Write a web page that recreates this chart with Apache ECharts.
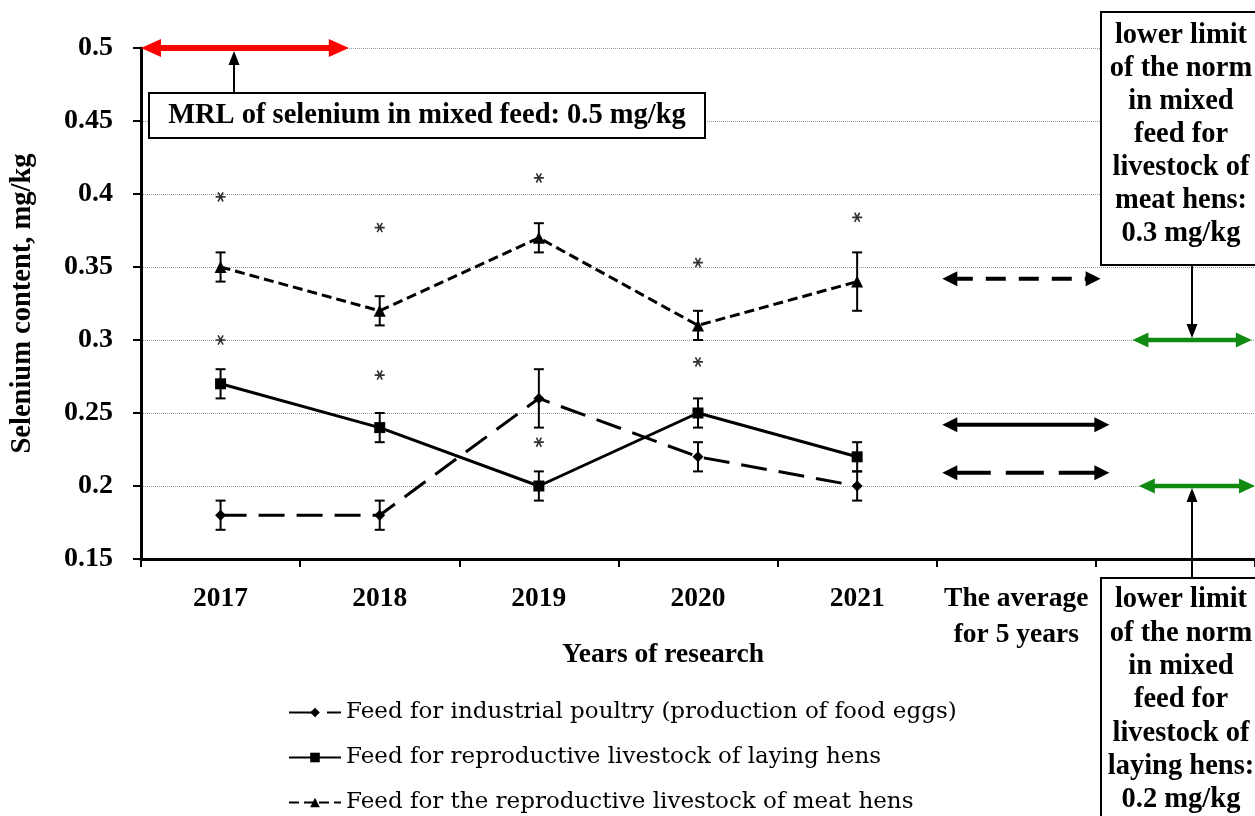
<!DOCTYPE html>
<html>
<head>
<meta charset="utf-8">
<script src="https://cdn.jsdelivr.net/npm/echarts@6/dist/echarts.min.js"></script>
<style>
  html, body { margin: 0; padding: 0; background: #fff; }
  #chart { width: 1255px; height: 816px; }
</style>
</head>
<body>
<div id="chart"></div>
<script>
// Categories on the x axis (last slot holds the norm annotations)
const categories = ['2017', '2018', '2019', '2020', '2021', 'The average\nfor 5 years', ''];

// Selenium content, mg/kg (mean and error)
const industrialFeed = [0.18, 0.18, 0.26, 0.22, 0.20];
const industrialErr  = [0.01, 0.01, 0.02, 0.01, 0.01];
const layingFeed     = [0.27, 0.24, 0.20, 0.25, 0.22];
const layingErr      = [0.01, 0.01, 0.01, 0.01, 0.01];
const meatFeed       = [0.35, 0.32, 0.37, 0.31, 0.34];
const meatErr        = [0.01, 0.01, 0.01, 0.01, 0.02];

// Values marked with an asterisk
const starsUpper = [0.398, 0.377, 0.411, 0.353, 0.384];
const starsLower = [0.300, 0.276, 0.230, 0.285, null];

// Five-year averages: industrial, laying hens, meat hens
const averages = [0.209, 0.242, 0.342];

// Regulatory levels
const mrlSelenium = 0.5;
const meatHensNorm = 0.3;
const layingHensNorm = 0.2;

const seriesNames = [
  'Feed for industrial poultry (production of food eggs)',
  'Feed for reproductive livestock of laying hens',
  'Feed for the reproductive livestock of meat hens'
];

const SERIF = '"Liberation Serif", "Times New Roman", serif';
const BOX_FONT = 'bold 28.5px ' + SERIF;

const chart = echarts.init(document.getElementById('chart'), null, { renderer: 'canvas' });

function errorBarSeries(values, errs) {
  return {
    type: 'custom',
    silent: true,
    z: 4,
    data: values.map((v, i) => [i, +(v - errs[i]).toFixed(3), +(v + errs[i]).toFixed(3)]),
    encode: { x: 0, y: [1, 2] },
    renderItem(params, api) {
      const x = api.value(0);
      const lo = api.coord([x, api.value(1)]);
      const hi = api.coord([x, api.value(2)]);
      const h = 5;
      const st = { stroke: '#000', lineWidth: 2 };
      return {
        type: 'group',
        children: [
          { type: 'line', shape: { x1: lo[0], y1: lo[1], x2: hi[0], y2: hi[1] }, style: st },
          { type: 'line', shape: { x1: lo[0] - h, y1: lo[1], x2: lo[0] + h, y2: lo[1] }, style: st },
          { type: 'line', shape: { x1: hi[0] - h, y1: hi[1], x2: hi[0] + h, y2: hi[1] }, style: st }
        ]
      };
    }
  };
}

function arrowGroup(x1, x2, y, o) {
  const L = o.head, H = o.half;
  return {
    type: 'group',
    children: [
      { type: 'line', shape: { x1: x1 + L * 0.7, y1: y, x2: x2 - L * 0.7, y2: y },
        style: { stroke: o.color, lineWidth: o.width, lineDash: o.dash || null } },
      { type: 'polygon', shape: { points: [[x1, y], [x1 + L, y - H], [x1 + L, y + H]] }, style: { fill: o.color } },
      { type: 'polygon', shape: { points: [[x2, y], [x2 - L, y - H], [x2 - L, y + H]] }, style: { fill: o.color } }
    ]
  };
}

// Double-headed horizontal arrow at a value, spanning part of a category band
function levelArrowSeries(cat, value, fromBand, toBand, opts) {
  return {
    type: 'custom',
    silent: true,
    z: 5,
    data: [[cat, value]],
    encode: { x: 0, y: 1 },
    renderItem(params, api) {
      const c = api.coord([api.value(0), api.value(1)]);
      const bw = api.size([1, 0])[0];
      return arrowGroup(c[0] + fromBand * bw, c[0] + toBand * bw, c[1], opts);
    }
  };
}

const starPath = 'path://M0 8.4 L20 8.4 L20 11.6 L0 11.6 Z M3.6 2.2 L6.4 0.6 L16.4 17.8 L13.6 19.4 Z M13.6 0.6 L16.4 2.2 L6.4 19.4 L3.6 17.8 Z';

const blackArrow = { color: '#000', width: 4, head: 15, half: 7.5 };
const greenArrow = { color: '#118a11', width: 4.5, head: 16, half: 7.5 };

const option = {
  backgroundColor: '#fff',
  animation: false,
  grid: { left: 139, right: -4, top: 48, bottom: 257, containLabel: false },
  legend: {
    orient: 'vertical',
    left: 288,
    top: 700,
    height: 140,
    padding: 0,
    itemGap: 20,
    itemWidth: 52,
    itemHeight: 12,
    selectedMode: false,
    data: seriesNames,
    textStyle: { fontFamily: '"DejaVu Serif", serif', fontSize: 23, lineHeight: 25, color: '#000' }
  },
  xAxis: {
    type: 'category',
    data: categories,
    boundaryGap: true,
    name: 'Years of research',
    nameLocation: 'middle',
    nameGap: 82,
    nameMoveOverlap: false,
    nameTextStyle: { fontFamily: SERIF, fontWeight: 'bold', fontSize: 27.5, color: '#000', padding: [0, 70, 0, 0] },
    axisLine: { lineStyle: { color: '#000', width: 3 } },
    axisTick: { show: true, length: 8, alignWithLabel: false, lineStyle: { color: '#000', width: 2 } },
    axisLabel: { interval: 0, fontFamily: SERIF, fontWeight: 'bold', fontSize: 27.5, color: '#000', lineHeight: 36, margin: 22 },
    splitLine: { show: false }
  },
  yAxis: {
    type: 'value',
    min: 0.15,
    max: 0.5,
    interval: 0.05,
    name: 'Selenium content, mg/kg',
    nameLocation: 'middle',
    nameGap: 104,
    nameTextStyle: { fontFamily: SERIF, fontWeight: 'bold', fontSize: 28.5, color: '#000' },
    axisLine: { show: true, lineStyle: { color: '#000', width: 3 } },
    axisTick: { show: true, length: 8, lineStyle: { color: '#000', width: 2 } },
    axisLabel: {
      fontFamily: SERIF, fontWeight: 'bold', fontSize: 28, color: '#000', margin: 28,
      formatter: v => String(+v.toFixed(2))
    },
    splitLine: { show: true, lineStyle: { type: 'dotted', color: '#999', width: 1 } }
  },
  series: [
    {
      name: seriesNames[0], type: 'line', data: industrialFeed, z: 6,
      symbol: 'diamond', symbolSize: 11,
      itemStyle: { color: '#000' },
      lineStyle: { color: '#000', width: 3, type: [26, 12] }
    },
    {
      name: seriesNames[1], type: 'line', data: layingFeed, z: 6,
      symbol: 'rect', symbolSize: 11,
      itemStyle: { color: '#000' },
      lineStyle: { color: '#000', width: 3, type: 'solid' }
    },
    {
      name: seriesNames[2], type: 'line', data: meatFeed, z: 6,
      symbol: 'triangle', symbolSize: 12,
      itemStyle: { color: '#000' },
      lineStyle: { color: '#000', width: 3, type: [10, 5] }
    },
    errorBarSeries(industrialFeed, industrialErr),
    errorBarSeries(layingFeed, layingErr),
    errorBarSeries(meatFeed, meatErr),
    {
      type: 'scatter', silent: true, z: 6,
      symbol: starPath, symbolSize: 10,
      itemStyle: { color: '#000' },
      data: starsUpper.map((v, i) => [i, v]).concat(
        starsLower.map((v, i) => [i, v]).filter(d => d[1] !== null))
    },
    // five-year averages
    levelArrowSeries(5, averages[0], -0.465, 0.585, Object.assign({ dash: [38, 15] }, blackArrow)),
    levelArrowSeries(5, averages[1], -0.465, 0.585, blackArrow),
    levelArrowSeries(5, averages[2], -0.465, 0.53, Object.assign({ dash: [20, 13] }, blackArrow)),
    // regulatory levels
    levelArrowSeries(0, mrlSelenium, -0.5, 0.806, { color: '#ff0000', width: 6, head: 20, half: 9 }),
    levelArrowSeries(6, meatHensNorm, -0.27, 0.48, greenArrow),
    levelArrowSeries(6, layingHensNorm, -0.23, 0.5, greenArrow)
  ]
};

chart.setOption(option);

// Callout boxes with pointers to the regulatory levels
const yPix = v => chart.convertToPixel({ yAxisIndex: 0 }, v);
const yMrl = yPix(mrlSelenium), yMeat = yPix(meatHensNorm), yLay = yPix(layingHensNorm);

function pointer(x, yFrom, yTip) {
  const dir = yTip < yFrom ? 1 : -1;
  const L = 14, H = 5.5;
  return [
    { type: 'line', z: 20, shape: { x1: x, y1: yFrom, x2: x, y2: yTip + dir * L * 0.8 }, style: { stroke: '#000', lineWidth: 2 } },
    { type: 'polygon', z: 20, shape: { points: [[x, yTip], [x - H, yTip + dir * L], [x + H, yTip + dir * L]] }, style: { fill: '#000' } }
  ];
}

function box(x, y, w, h, lines, cx, midY, lh) {
  return [
    { type: 'rect', z: 19, shape: { x: x, y: y, width: w, height: h }, style: { fill: '#fff', stroke: '#000', lineWidth: 2 } },
    { type: 'text', z: 21, x: cx, y: midY,
      style: { text: lines.join('\n'), font: BOX_FONT, fill: '#000', align: 'center', verticalAlign: 'middle', lineHeight: lh } }
  ];
}

const mrlText = 'MRL of selenium in mixed feed: ' + mrlSelenium + ' mg/kg';
const meatText = ['lower limit', 'of the norm', 'in mixed', 'feed for', 'livestock of', 'meat hens:', meatHensNorm + ' mg/kg'];
const layText = ['lower limit', 'of the norm', 'in mixed', 'feed for', 'livestock of', 'laying hens:', layingHensNorm + ' mg/kg'];

chart.setOption({
  graphic: [].concat(
    pointer(234, 93, yMrl + 3),
    box(149, 93, 556, 45, [mrlText], 427, 116, 33),
    box(1101, 12, 160, 253, meatText, 1181, 36 + 33 * 3, 33),
    pointer(1192, 265, yMeat - 2),
    box(1101, 578, 160, 260, layText, 1181, 600 + 33.3 * 3, 33.3),
    pointer(1192, 578, yLay + 2)
  )
});
</script>
</body>
</html>
